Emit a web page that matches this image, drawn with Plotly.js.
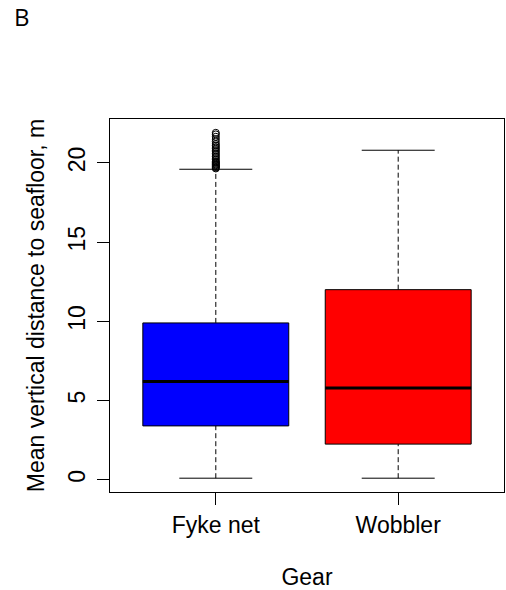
<!DOCTYPE html>
<html>
<head>
<meta charset="utf-8">
<script src="https://cdn.plot.ly/plotly-3.0.1.min.js"></script>
<style>
  html, body { margin: 0; padding: 0; background: #ffffff; }
  #chart { width: 506px; height: 590px; }
</style>
</head>
<body>
<div id="chart"></div>
<script>
// Gear groups and their summary statistics (metres above seafloor)
const gears = ["Fyke net", "Wobbler"];
const gearColors = ["#0000ff", "#ff0000"];
const lowerWhisker = [0.1, 0.1];
const q1 = [3.4, 2.25];
const medians = [6.2, 5.8];
const q3 = [9.9, 12.0];
const upperWhisker = [19.6, 20.8];
// Points beyond the upper whisker (Fyke net only)
const fykeOutliers = [19.65, 19.7, 19.75, 19.8, 19.85, 19.9, 19.95, 20.0, 20.05, 20.1,
                      20.2, 20.3, 20.4, 20.5, 20.6, 20.7, 20.8, 20.9, 21.0, 21.1,
                      21.2, 21.35, 21.5, 21.65, 21.8, 21.9];
const yTicks = [0, 5, 10, 15, 20];

const positions = gears.map((g, i) => i + 1);
const boxHalf = 0.4;     // half of box width
const stapleHalf = 0.2;  // half of whisker cap width
const black = "#000000";

const traces = [];
positions.forEach((p, i) => {
  // filled box from Q1 to Q3
  traces.push({
    type: "scatter", mode: "lines",
    x: [p - boxHalf, p + boxHalf, p + boxHalf, p - boxHalf, p - boxHalf],
    y: [q1[i], q1[i], q3[i], q3[i], q1[i]],
    fill: "toself", fillcolor: gearColors[i],
    line: { color: black, width: 1 },
    hoverinfo: "skip", showlegend: false
  });
  // dashed whiskers
  traces.push({
    type: "scatter", mode: "lines",
    x: [p, p, null, p, p],
    y: [lowerWhisker[i], q1[i], null, q3[i], upperWhisker[i]],
    line: { color: black, width: 1, dash: "5px,3px" },
    hoverinfo: "skip", showlegend: false
  });
  // whisker caps
  traces.push({
    type: "scatter", mode: "lines",
    x: [p - stapleHalf, p + stapleHalf, null, p - stapleHalf, p + stapleHalf],
    y: [lowerWhisker[i], lowerWhisker[i], null, upperWhisker[i], upperWhisker[i]],
    line: { color: black, width: 1 },
    hoverinfo: "skip", showlegend: false
  });
  // thick median line
  traces.push({
    type: "scatter", mode: "lines",
    x: [p - boxHalf, p + boxHalf],
    y: [medians[i], medians[i]],
    line: { color: black, width: 3 },
    hoverinfo: "skip", showlegend: false
  });
});

// outlying observations as open circles
traces.push({
  type: "scatter", mode: "markers",
  x: fykeOutliers.map(() => positions[0]),
  y: fykeOutliers,
  marker: { symbol: "circle-open", size: 7, color: black, line: { width: 1 } },
  hoverinfo: "y", showlegend: false
});

// axis limits padded by 4% as in classic box plots
const allVals = lowerWhisker.concat(upperWhisker, fykeOutliers);
const yMin = Math.min(...allVals), yMax = Math.max(...allVals);
const yPad = 0.04 * (yMax - yMin);
const xPad = 0.04 * positions.length;

const font = { family: "Liberation Sans, Arial, sans-serif", size: 23, color: black };

const layout = {
  width: 506, height: 590,
  margin: { l: 110, r: 2, t: 119, b: 98 },
  paper_bgcolor: "#ffffff", plot_bgcolor: "#ffffff",
  font: font,
  showlegend: false,
  xaxis: {
    range: [0.5 - xPad, positions.length + 0.5 + xPad],
    tickvals: positions, ticktext: gears,
    ticks: "outside", ticklen: 12, tickwidth: 1, tickcolor: black,
    showline: true, linecolor: black, linewidth: 1, mirror: true,
    showgrid: false, zeroline: false,
    tickfont: font,
    title: { text: "Gear", font: font, standoff: 33 }
  },
  yaxis: {
    range: [yMin - yPad, yMax + yPad],
    tickvals: yTicks,
    tickangle: -90,
    ticks: "outside", ticklen: 12, tickwidth: 1, tickcolor: black,
    ticklabelstandoff: 3,
    showline: true, linecolor: black, linewidth: 1, mirror: true,
    showgrid: false, zeroline: false,
    tickfont: font,
    title: { text: "Mean vertical distance to seafloor, m", font: font, standoff: 12 }
  },
  annotations: [{
    text: "B", xref: "paper", yref: "paper",
    x: 0, y: 1, xanchor: "left", yanchor: "top",
    xshift: -98, yshift: 121,
    showarrow: false,
    font: { family: "Open Sans, Noto Sans, sans-serif", size: 24, color: black }
  }]
};

Plotly.newPlot("chart", traces, layout, { displayModeBar: false, staticPlot: true });
</script>
</body>
</html>
